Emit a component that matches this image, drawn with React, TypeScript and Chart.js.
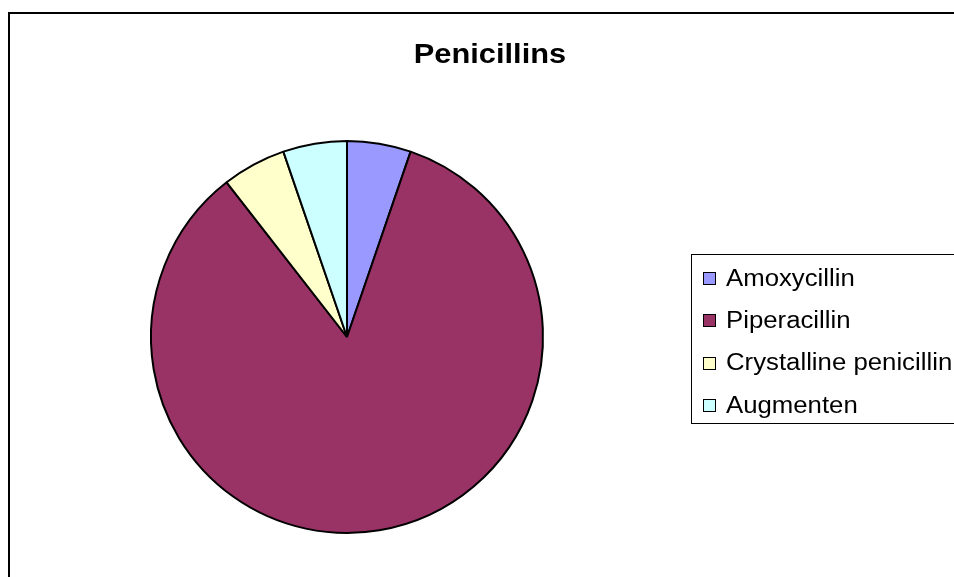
import React, { useEffect, useRef } from "react";
import { Chart, registerables } from "chart.js";

Chart.register(...registerables);

const title = "Penicillins";
const labels = ["Amoxycillin", "Piperacillin", "Crystalline penicillin", "Augmenten"];
const values = [1, 16, 1, 1];
const colors = ["#9999FF", "#993366", "#FFFFCC", "#CCFFFF"];

const FONT = '"Liberation Sans", Arial, sans-serif';

function stretchedText(ctx: CanvasRenderingContext2D, text: string, x: number, y: number, sx: number, align: CanvasTextAlign) {
  ctx.save();
  ctx.translate(x, y);
  ctx.scale(sx, 1);
  ctx.textAlign = align;
  ctx.textBaseline = "alphabetic";
  ctx.fillText(text, 0, 0);
  ctx.restore();
}

const framePlugin = {
  id: "framePlugin",
  beforeDraw(chart: any) {
    const ctx = chart.ctx;
    ctx.save();
    ctx.fillStyle = "#ffffff";
    ctx.fillRect(0, 0, chart.width, chart.height);
    ctx.strokeStyle = "#000000";
    ctx.lineWidth = 2;
    ctx.strokeRect(9, 13, chart.width + 20, chart.height + 20);
    ctx.restore();
  },
  afterDraw(chart: any) {
    const ctx = chart.ctx;
    ctx.save();
    // title
    ctx.fillStyle = "#000";
    ctx.font = `bold 28px ${FONT}`;
    stretchedText(ctx, title, 490, 63, 1.1, "center");
    // legend box
    ctx.strokeStyle = "#000";
    ctx.lineWidth = 1;
    ctx.strokeRect(691.5, 254.5, 300, 169);
    const labs = chart.data.labels as string[];
    const bg = chart.data.datasets[0].backgroundColor as string[];
    ctx.font = `23px ${FONT}`;
    labs.forEach((l, i) => {
      const cy = 278 + i * 42.4;
      const top = Math.round(cy - 6) + 0.5;
      ctx.fillStyle = bg[i];
      ctx.fillRect(703.5, top, 12, 12);
      ctx.strokeStyle = "#000";
      ctx.strokeRect(703.5, top, 12, 12);
      ctx.fillStyle = "#000";
      stretchedText(ctx, l, 726, cy + 7.5, 1.12, "left");
    });
    ctx.restore();
  },
};

export default function App() {
  const ref = useRef<HTMLCanvasElement>(null);
  useEffect(() => {
    document.body.style.margin = "0";
    document.body.style.overflow = "hidden";
    const chart = new Chart(ref.current!, {
      type: "pie",
      data: {
        labels,
        datasets: [
          {
            data: values,
            backgroundColor: colors,
            borderColor: "#000000",
            borderWidth: 2,
          },
        ],
      },
      options: {
        responsive: false,
        animation: false,
        devicePixelRatio: 1,
        layout: { padding: { left: 150, right: 410, top: 140, bottom: 43 } },
        plugins: {
          legend: { display: false },
          title: { display: false },
          tooltip: { enabled: false },
        },
      },
      plugins: [framePlugin],
    });
    return () => chart.destroy();
  }, []);
  return (
    <div style={{ position: "fixed", left: 0, top: 0, width: 954, height: 577 }}>
      <canvas ref={ref} width={954} height={577} style={{ width: 954, height: 577 }} />
    </div>
  );
}
